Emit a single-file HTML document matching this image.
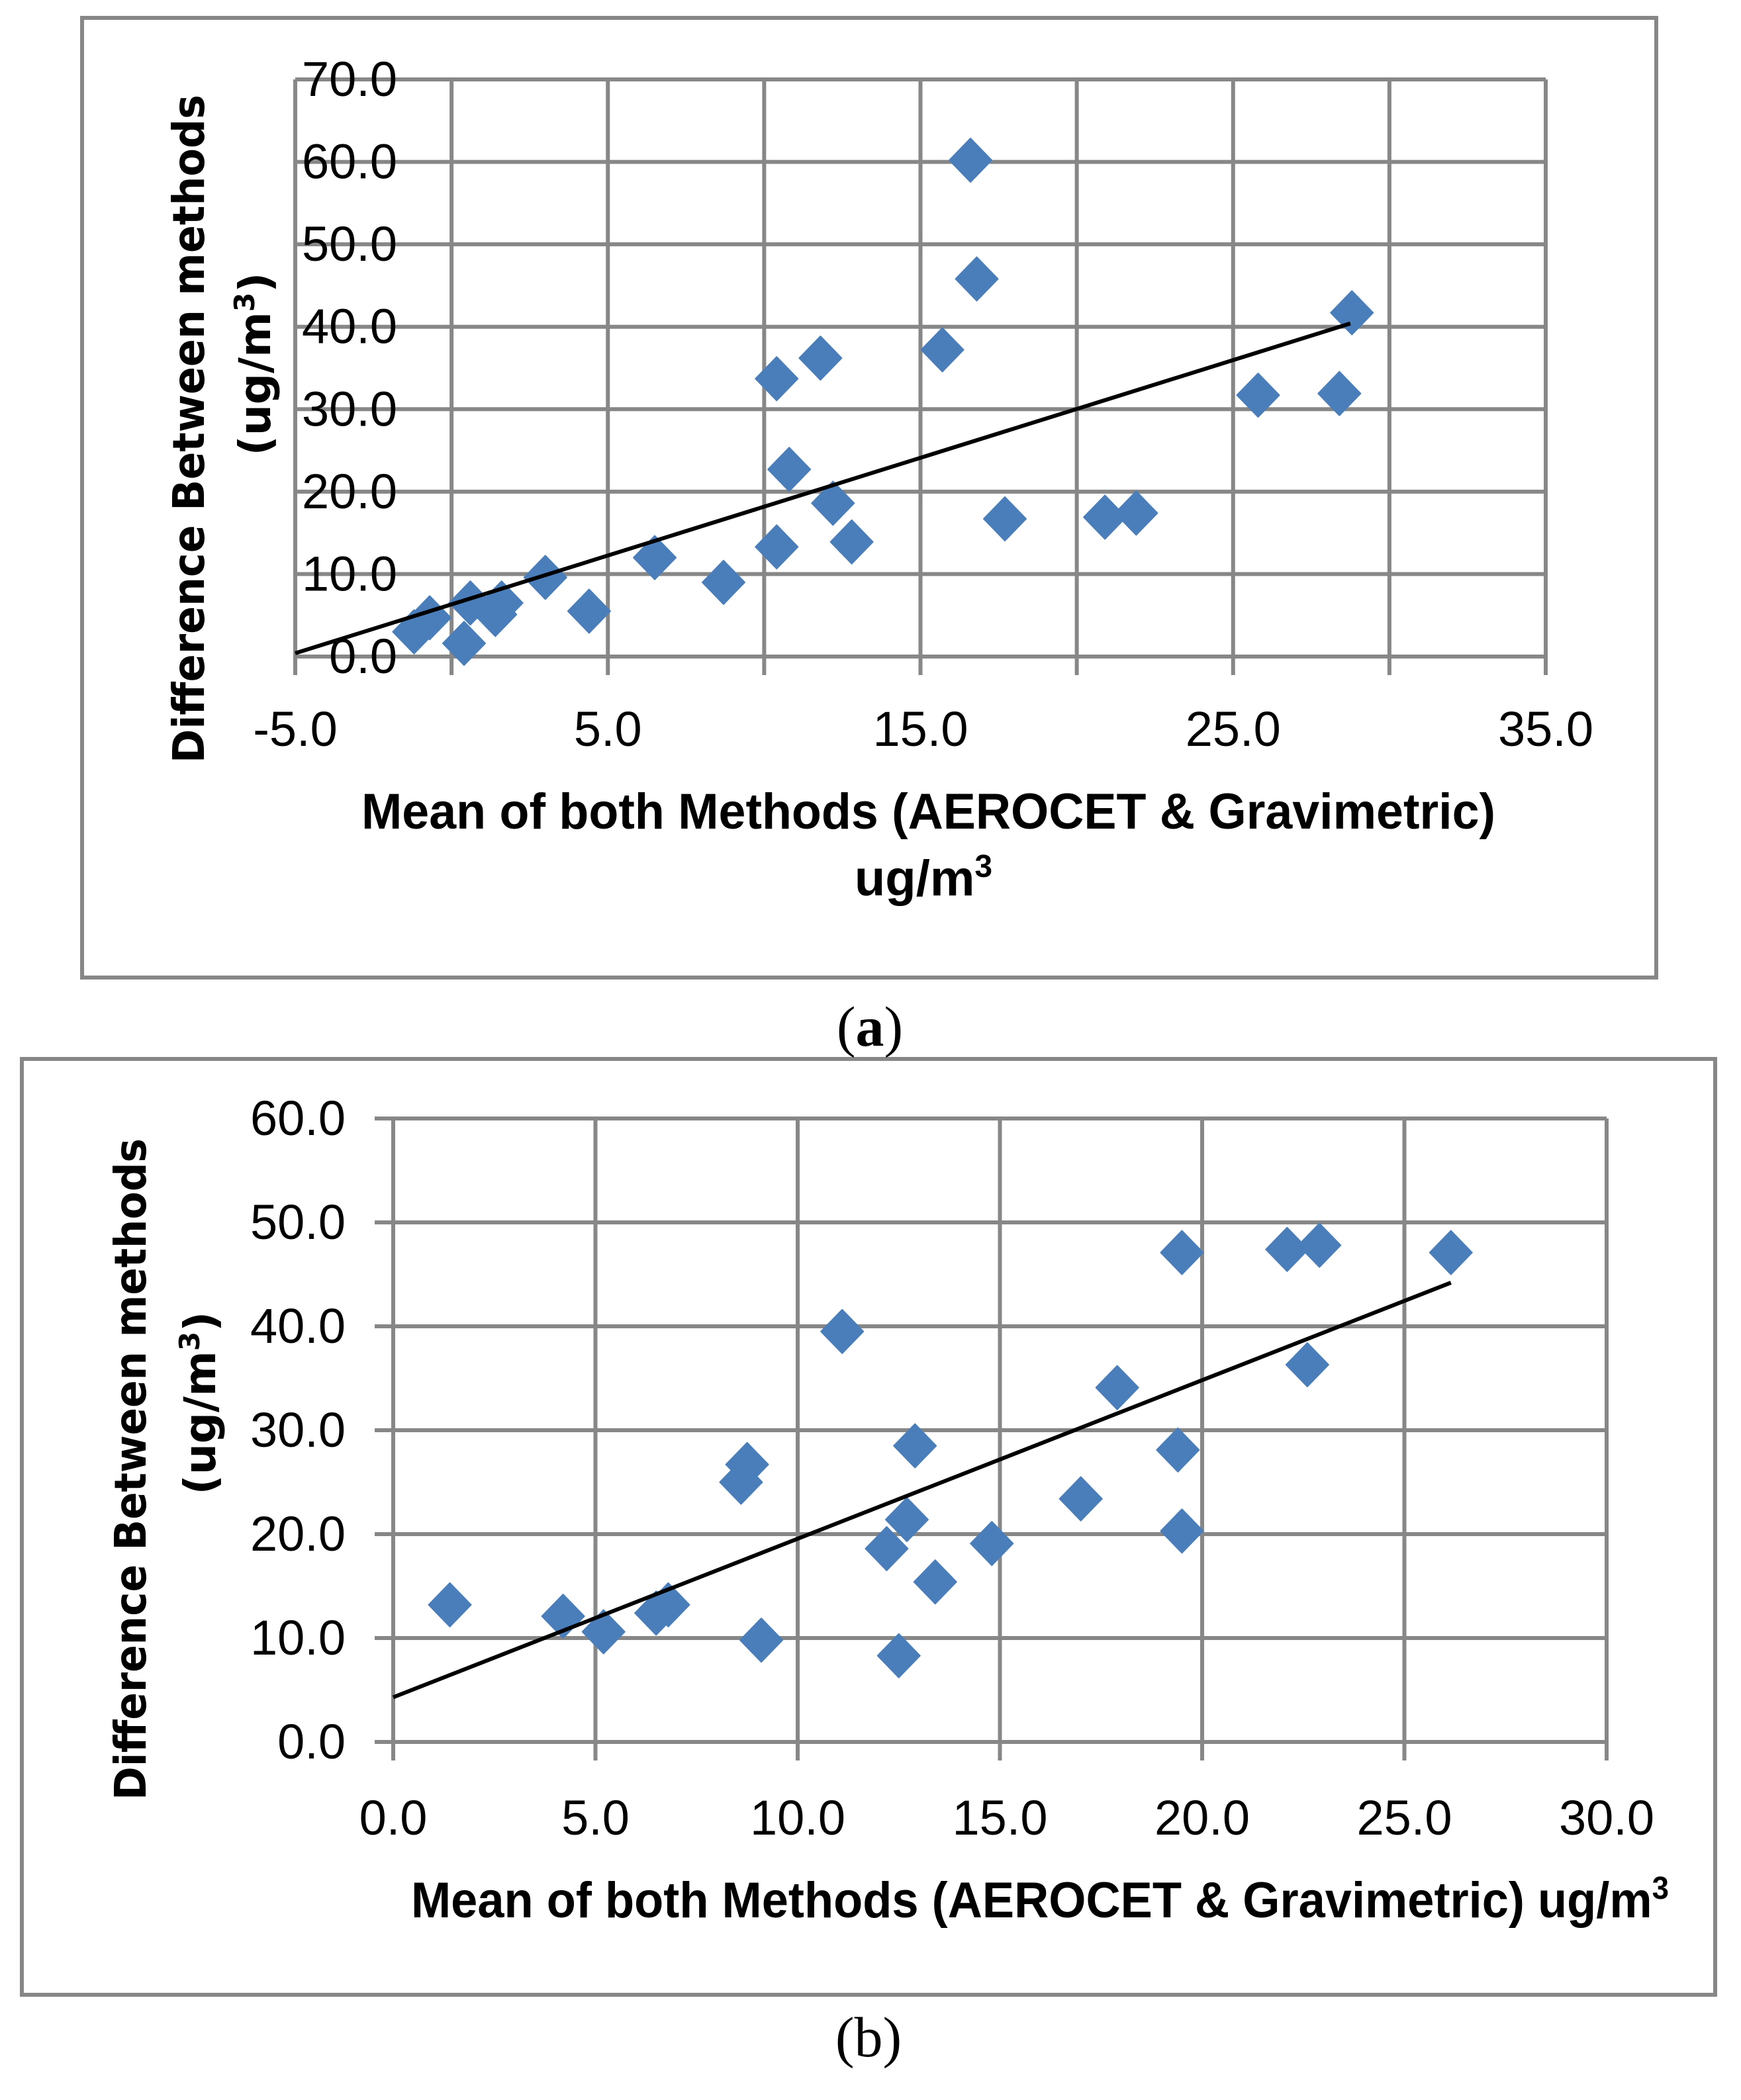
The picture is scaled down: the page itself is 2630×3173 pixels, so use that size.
<!DOCTYPE html>
<html><head><meta charset="utf-8"><style>
html,body{margin:0;padding:0;background:#fff;}
svg{display:block;}
</style></head><body>
<svg id="fig" width="2630" height="3173" viewBox="0 0 2630 3173" xmlns="http://www.w3.org/2000/svg" font-family="Liberation Sans, sans-serif">
<rect x="124" y="27" width="2378" height="1450" fill="none" stroke="#878787" stroke-width="6"/>
<rect x="33" y="1600" width="2558" height="1414" fill="none" stroke="#878787" stroke-width="6"/>
<g id="ga"></g>
<g id="gb"></g>
<text x="1314" y="1580" font-family="Liberation Serif, serif" font-size="86" text-anchor="middle">(<tspan font-weight="bold">a</tspan>)</text>
<text x="1312" y="3107" font-family="Liberation Serif, serif" font-size="86" text-anchor="middle">(b)</text>
</svg>
<script>
// Chart (a) data
const aXs = [-1.2,-0.7,0.6,0.4,1.4,1.6,3.0,4.4,6.5,8.7,10.4,10.4,10.8,11.8,12.2,12.8,15.7,16.6,16.8,17.7,20.9,21.9,25.8,28.4,28.8];
const aYs = [3.0,4.7,6.5,1.6,5.1,6.5,9.6,5.5,12.0,9.0,13.3,33.7,22.7,36.2,18.6,13.9,37.2,60.2,45.8,16.7,16.9,17.4,31.7,31.9,41.7];
const aTrendX = [-5.0,28.75];
const aTrendY = [0.4,40.4];
const aXTicks = [-5,5,15,25,35];
const aXGrid = [-5,0,5,10,15,20,25,30,35];
const aYTicks = [0,10,20,30,40,50,60,70];
// Chart (b) data
const bXs = [1.4,4.2,5.2,6.5,6.8,8.6,8.75,9.1,11.1,12.2,12.5,12.7,12.9,13.4,14.8,17.0,17.9,19.4,19.5,19.5,22.1,22.9,22.6,26.15];
const bYs = [13.2,12.1,10.6,12.4,13.2,25.0,26.7,9.8,39.5,18.6,8.3,21.4,28.5,15.4,19.1,23.4,34.1,28.1,20.3,47.1,47.4,47.8,36.3,47.1];
const bTrendX = [0,26.15];
const bTrendY = [4.3,44.2];
const bXTicks = [0,5,10,15,20,25,30];
const bXGrid = [0,5,10,15,20,25,30];
const bYTicks = [0,10,20,30,40,50,60];

const NS='http://www.w3.org/2000/svg';
function mk(parent,tag,attrs,txt){const e=document.createElementNS(NS,tag);for(const k in attrs)e.setAttribute(k,attrs[k]);if(txt!=null)e.textContent=txt;parent.appendChild(e);return e;}

function draw(g,cfg,xs,ys,tx,ty,xt,xg,yt,pfx){
  const sx=v=>cfg.L+(v-cfg.x0)/(cfg.x1-cfg.x0)*(cfg.R-cfg.L);
  const sy=v=>cfg.B-(v-cfg.y0)/(cfg.y1-cfg.y0)*(cfg.B-cfg.T);
  xg.forEach(v=>{
    const l=mk(g,'line',{x1:sx(v),x2:sx(v),y1:cfg.T,y2:cfg.B+28,stroke:'#878787','stroke-width':6});
    
    
  });
  xt.forEach(v=>{
    const t=mk(g,'text',{x:sx(v),y:cfg.xLabY,'font-size':74,'text-anchor':'middle'},v.toFixed(1));
    
    
  });
  yt.forEach(v=>{
    const l=mk(g,'line',{x1:cfg.L-(cfg.yTickOut||0),x2:cfg.R,y1:sy(v),y2:sy(v),stroke:'#878787','stroke-width':6});
    
    
    const t=mk(g,'text',{x:cfg.yLabX,y:sy(v)+cfg.yLabDy,'font-size':74,'text-anchor':'end'},v.toFixed(1));
    
    
  });
  xs.forEach((v,i)=>{
    const cx=sx(v),cy=sy(ys[i]);
    const p=mk(g,'path',{d:`M${cx},${cy-33}L${cx+32},${cy}L${cx},${cy+33}L${cx-32},${cy}Z`,fill:'#4a7ebb','stroke':'#4a7ebb','stroke-width':2,'stroke-linejoin':'round'});
    
    
  });
  const tl=mk(g,'line',{x1:sx(tx[0]),y1:sy(ty[0]),x2:sx(tx[1]),y2:sy(ty[1]),stroke:'#000','stroke-width':6});
  
  
}

const ga=document.getElementById('ga'), gb=document.getElementById('gb');
draw(ga,{L:446,R:2335,T:120,B:992,x0:-5,x1:35,y0:0,y1:70,xLabY:1127,yLabX:600,yLabDy:25,yTickOut:0},aXs,aYs,aTrendX,aTrendY,aXTicks,aXGrid,aYTicks,'chart-a');
draw(gb,{L:594,R:2427,T:1690,B:2632,x0:0,x1:30,y0:0,y1:60,xLabY:2772,yLabX:522,yLabDy:25,yTickOut:28},bXs,bYs,bTrendX,bTrendY,bXTicks,bXGrid,bYTicks,'chart-b');

let t;
t=mk(ga,'text',{x:546,y:1252,'font-size':76,'font-weight':'bold',textLength:1713,lengthAdjust:'spacingAndGlyphs'},'Mean of both Methods (AEROCET & Gravimetric)');


t=mk(ga,'text',{x:1395,y:1353,'font-size':76,'font-weight':'bold','text-anchor':'middle'});
t.innerHTML='ug/m<tspan font-size="48" dy="-28">3</tspan>';


t=mk(ga,'text',{x:0,y:0,'font-size':66,'font-weight':'bold','font-family':'DejaVu Sans, sans-serif','text-anchor':'middle',transform:'translate(308,648) rotate(-90)',textLength:1010,lengthAdjust:'spacingAndGlyphs'},'Difference Between methods');


t=mk(ga,'text',{x:0,y:0,'font-size':66,'font-weight':'bold','font-family':'DejaVu Sans, sans-serif','text-anchor':'middle',transform:'translate(408,550) rotate(-90)'});
t.innerHTML='(ug/m<tspan font-size="42" dy="-24">3</tspan><tspan dy="24">)</tspan>';



t=mk(gb,'text',{x:621,y:2897,'font-size':76,'font-weight':'bold',textLength:1900,lengthAdjust:'spacingAndGlyphs'});
t.innerHTML='Mean of both Methods (AEROCET &amp; Gravimetric) ug/m<tspan font-size="48" dy="-28">3</tspan>';


t=mk(gb,'text',{x:0,y:0,'font-size':66,'font-weight':'bold','font-family':'DejaVu Sans, sans-serif','text-anchor':'middle',transform:'translate(220,2220) rotate(-90)',textLength:1000,lengthAdjust:'spacingAndGlyphs'},'Difference Between methods');


t=mk(gb,'text',{x:0,y:0,'font-size':66,'font-weight':'bold','font-family':'DejaVu Sans, sans-serif','text-anchor':'middle',transform:'translate(325,2120) rotate(-90)'});
t.innerHTML='(ug/m<tspan font-size="42" dy="-24">3</tspan><tspan dy="24">)</tspan>';


</script>
</body></html>
